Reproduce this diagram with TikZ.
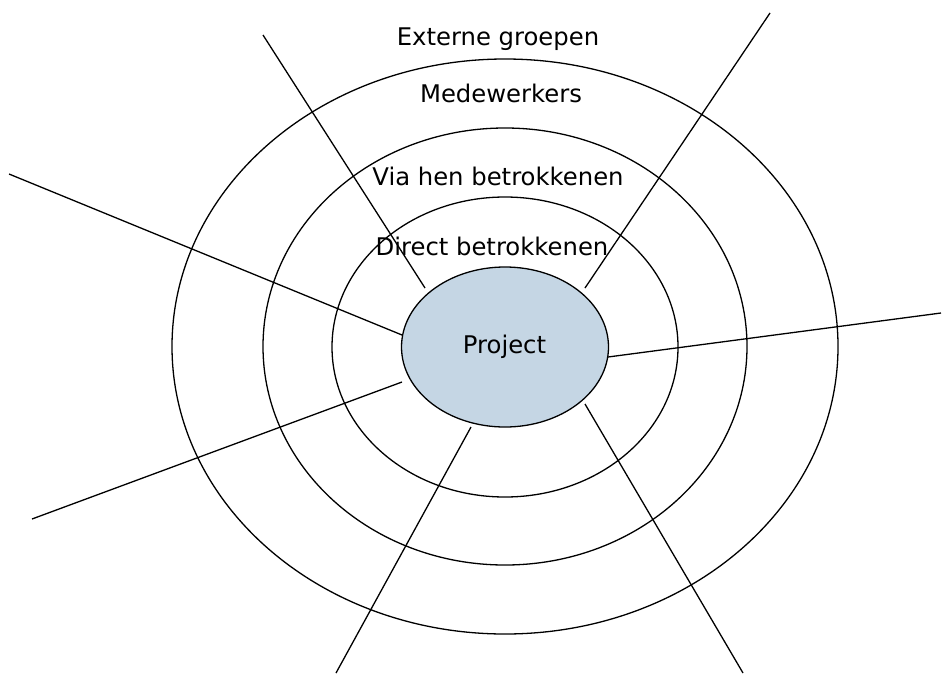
\documentclass[tikz,border=0pt]{standalone}
\usepackage{fontspec}
\setmainfont{DejaVu Sans}
\usetikzlibrary{shapes.geometric}
\definecolor{projfill}{RGB}{197,214,228}
\begin{document}
\begin{tikzpicture}[x=1pt,y=-1pt,
  ring/.style={draw=black,line width=1.3pt},
  spoke/.style={draw=black,line width=1.3pt},
  lbl/.style={anchor=base,inner sep=0pt,font=\fontsize{24.3}{27}\selectfont}]
\useasboundingbox (0,0) rectangle (944,675);
% rings
\draw[ring] (505,346.5) ellipse [x radius=333pt, y radius=287.5pt];
\draw[ring] (505,346.5) ellipse [x radius=242pt, y radius=218.5pt];
\draw[ring] (505,347) ellipse [x radius=173pt, y radius=150pt];
% project
\node[ellipse,draw=black,line width=1.3pt,fill=projfill,minimum width=207pt,minimum height=160pt,inner sep=0pt] (P) at (505,347) {};
\node[lbl] (tP) at (504.5,353) {Project};
% labels
\node[lbl] (t1) at (498,45) {Externe groepen};
\node[lbl] (t2) at (501,102.7) {Medewerkers};
\node[lbl] (t3) at (498,185.7) {Via hen betrokkenen};
\node[lbl] (t4) at (492,255) {Direct betrokkenen};
% spoke ends
\coordinate (a1) at (425,288); \coordinate (b1) at (263,35);
\coordinate (a2) at (585,288); \coordinate (b2) at (770,13);
\coordinate (a3) at (402,335); \coordinate (b3) at (9,174);
\coordinate (a4) at (402,382); \coordinate (b4) at (32,519);
\coordinate (a5) at (608,357); \coordinate (b5) at (941,313);
\coordinate (a6) at (471,427); \coordinate (b6) at (336,673);
\coordinate (a7) at (585,404); \coordinate (b7) at (743,673);
\foreach \i in {1,...,7} {\draw[spoke] (a\i) -- (b\i);}
\end{tikzpicture}
\end{document}
